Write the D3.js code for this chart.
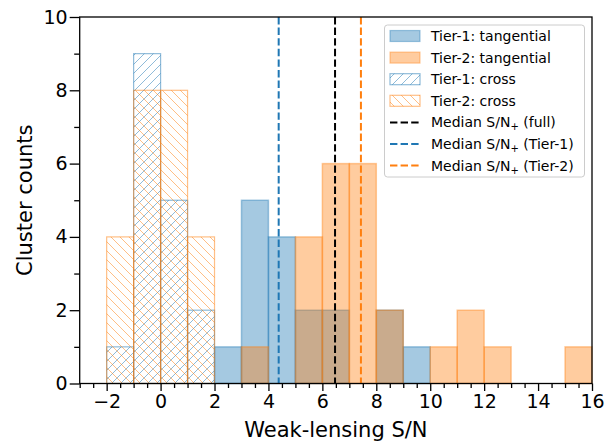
<!DOCTYPE html>
<html><head><meta charset="utf-8">
<script src="https://cdn.jsdelivr.net/npm/d3@7"></script>
<style>body{margin:0;background:#fff} svg{display:block} text{font-family:"DejaVu Sans",sans-serif;fill:#000}</style>
</head><body><svg id="chart" width="615" height="441"></svg>
<script>
// ---- data ----
const tangentialBinEdges = [-3,-2,-1,0,1,2,3,4,5,6,7,8,9,10,11,12,13,14,15,16];
const tier1Tangential = [0,0,0,0,0,1,5,4,2,2,0,2,1,0,0,0,0,0,0];
const tier2Tangential = [0,0,0,0,0,0,1,0,4,6,6,2,0,1,2,1,0,0,1];
const crossBinEdges = [-2,-1,0,1,2];
const tier1Cross = [1,9,5,2];
const tier2Cross = [4,8,8,4];
const medianValues = [6.47, 4.38, 7.43];
const medianNames = ["full","Tier-1","Tier-2"];
const xTickValues = [-2,0,2,4,6,8,10,12,14,16];
const yTickValues = [0,2,4,6,8,10];
const legendLabels = ["Tier-1: tangential","Tier-2: tangential","Tier-1: cross","Tier-2: cross"];

const BLUE = "#1f77b4", ORANGE = "#ff7f0e";
const svg = d3.select("#chart");
const L = 79.7, R = 592, T = 17, B = 383.5;
const x = d3.scaleLinear().domain([-3,16]).range([L,R]);
const y = d3.scaleLinear().domain([0,10]).range([B,T]);

// hatch patterns
const defs = svg.append("defs");
function hatch(id, color, forward){
  const p = defs.append("pattern").attr("id",id).attr("patternUnits","userSpaceOnUse")
    .attr("width",9).attr("height",9);
  const g = p.append("g").attr("stroke",color).attr("stroke-opacity",0.5).attr("stroke-width",1);
  if (forward){
    g.append("line").attr("x1",0).attr("y1",9).attr("x2",9).attr("y2",0);
    g.append("line").attr("x1",-1).attr("y1",1).attr("x2",1).attr("y2",-1);
    g.append("line").attr("x1",8).attr("y1",10).attr("x2",10).attr("y2",8);
  } else {
    g.append("line").attr("x1",0).attr("y1",0).attr("x2",9).attr("y2",9);
    g.append("line").attr("x1",-1).attr("y1",8).attr("x2",1).attr("y2",10);
    g.append("line").attr("x1",8).attr("y1",-1).attr("x2",10).attr("y2",1);
  }
}
hatch("h1", BLUE, true);
hatch("h2", ORANGE, false);

function tangential(counts, color){
  svg.append("g").selectAll("rect").data(counts).join("rect")
    .attr("x",(d,i)=>x(tangentialBinEdges[i]))
    .attr("width",(d,i)=>x(tangentialBinEdges[i+1])-x(tangentialBinEdges[i]))
    .attr("y",d=>y(d)).attr("height",d=>y(0)-y(d))
    .attr("fill",color).attr("fill-opacity",0.4)
    .attr("stroke",color).attr("stroke-opacity",0.4).attr("stroke-width",1.5);
}
function cross(counts, color, pat){
  svg.append("g").selectAll("rect").data(counts).join("rect")
    .attr("x",(d,i)=>x(crossBinEdges[i]))
    .attr("width",(d,i)=>x(crossBinEdges[i+1])-x(crossBinEdges[i]))
    .attr("y",d=>y(d)).attr("height",d=>y(0)-y(d))
    .attr("fill","url(#"+pat+")")
    .attr("stroke",color).attr("stroke-opacity",0.5).attr("stroke-width",1.2);
}
tangential(tier1Tangential, BLUE);
tangential(tier2Tangential, ORANGE);
cross(tier1Cross, BLUE, "h1");
cross(tier2Cross, ORANGE, "h2");

// medians
const medianColors = ["#000", BLUE, ORANGE];
svg.append("g").selectAll("line").data(medianValues).join("line")
  .attr("x1",d=>x(d)).attr("x2",d=>x(d)).attr("y1",T).attr("y2",B)
  .attr("stroke",(d,i)=>medianColors[i]).attr("stroke-width",2)
  .attr("stroke-dasharray","7.4,3.2");

// axes
const xAxis = svg.append("g").attr("transform",`translate(0,${B})`)
  .call(d3.axisBottom(x).tickValues(xTickValues).tickSize(7.5).tickPadding(4)
    .tickFormat(d=>d<0?"\u2212"+Math.abs(d):d));
const xMinor = svg.append("g").attr("transform",`translate(0,${B})`)
  .call(d3.axisBottom(x).tickValues(d3.range(-3,16.01,0.5).filter(v=>v%2!==0)).tickSize(4.5).tickFormat(""));
const yAxis = svg.append("g").attr("transform",`translate(${L},0)`)
  .call(d3.axisLeft(y).tickValues(yTickValues).tickSize(10).tickPadding(2));
const yMinor = svg.append("g").attr("transform",`translate(${L},0)`)
  .call(d3.axisLeft(y).tickValues([1,3,5,7,9]).tickSize(5.5).tickFormat(""));
[xAxis,xMinor,yAxis,yMinor].forEach(g=>{
  g.select(".domain").remove();
  g.selectAll(".tick line").attr("stroke","#000").attr("stroke-width",1.3);
  g.selectAll("text").style("font-size","19px").attr("fill","#000");
});
svg.append("rect").attr("x",L).attr("y",T).attr("width",R-L).attr("height",B-T)
  .attr("fill","none").attr("stroke","#000").attr("stroke-width",1.3);

svg.append("text").attr("x",(L+R)/2).attr("y",437).attr("text-anchor","middle")
  .style("font-size","21px").text("Weak-lensing S/N");
svg.append("text").attr("transform",`translate(32,${(T+B)/2}) rotate(-90)`).attr("text-anchor","middle")
  .style("font-size","21px").text("Cluster counts");

// legend
const lg = svg.append("g");
lg.append("rect").attr("x",384.5).attr("y",25).attr("width",200).attr("height",152).attr("rx",3)
  .attr("fill","#fff").attr("fill-opacity",0.8).attr("stroke","#ccc").attr("stroke-width",1);
const rowY = i => 36 + i*21.6;
const patches = [
  {fill:BLUE, op:0.4, stroke:BLUE, so:0.4},
  {fill:ORANGE, op:0.4, stroke:ORANGE, so:0.4},
  {fill:"url(#h1)", op:1, stroke:BLUE, so:0.5},
  {fill:"url(#h2)", op:1, stroke:ORANGE, so:0.5}
];
patches.forEach((p,i)=>{
  lg.append("rect").attr("x",390).attr("y",rowY(i)-5.5).attr("width",30).attr("height",11)
    .attr("fill",p.fill).attr("fill-opacity",p.op).attr("stroke",p.stroke).attr("stroke-opacity",p.so).attr("stroke-width",1.2);
  lg.append("text").attr("x",431).attr("y",rowY(i)).attr("dy","0.36em").style("font-size","14px").text(legendLabels[i]);
});
medianNames.forEach((n,j)=>{
  const i = j+4;
  lg.append("line").attr("x1",390).attr("x2",420).attr("y1",rowY(i)).attr("y2",rowY(i))
    .attr("stroke",medianColors[j]).attr("stroke-width",2).attr("stroke-dasharray","7.4,3.2");
  const t = lg.append("text").attr("x",431).attr("y",rowY(i)).attr("dy","0.36em").style("font-size","14px");
  t.append("tspan").text("Median S/N");
  t.append("tspan").attr("dy",3).style("font-size","10px").text("+");
  t.append("tspan").attr("dy",-3).text(" ("+n+")");
});
</script></body></html>
